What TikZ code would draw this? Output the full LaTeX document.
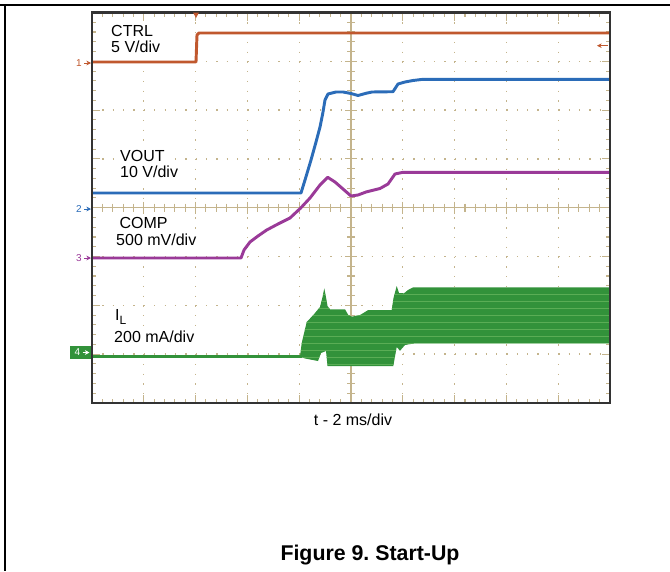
\documentclass[tikz,border=0pt]{standalone}
\usepackage{fontspec}
\setmainfont{Liberation Sans}
\usetikzlibrary{arrows.meta}
\frenchspacing

\definecolor{ctrlcol}{RGB}{192,88,46}
\definecolor{voutcol}{RGB}{43,108,184}
\definecolor{compcol}{RGB}{154,58,152}
\definecolor{ilcol}{RGB}{50,146,58}
\definecolor{ilstripe}{RGB}{100,180,92}
\definecolor{gridcol}{RGB}{196,180,140}

\newcommand\ilshape{(300,356.5) -- (301.7,343) -- (306.7,322) -- (313.3,315) -- (320,307) -- (322.5,297) -- (324.3,288.3) -- (326.5,300) -- (327.5,306) -- (330,309.3) -- (345,309.3) -- (348.3,315) -- (351.7,316.7) -- (360,315) -- (368.3,310) -- (391.7,310) -- (393.5,298) -- (396.7,286) -- (399,293) -- (404,293.3) -- (408,290) -- (413.3,287.3) -- (610,287.3) -- (610,343.3) -- (415,343.3) -- (405,345) -- (400,350.7) -- (396.7,347) -- (393.3,366) -- (327.5,366) -- (326,351) -- (321,353) -- (318,361) -- (305,358.5) -- cycle}

\begin{document}
\begin{tikzpicture}[x=0.75pt,y=-0.75pt,
  trace/.style={line width=2.2pt, line join=round},
  lbl/.style={fill=white, inner sep=2pt, anchor=base west, font=\fontsize{12}{12}\selectfont},
  chnum/.style={inner sep=0pt, font=\fontsize{7.5}{7.5}\selectfont},
  chmark/.style={-{Stealth[length=3.5pt,width=3.5pt]}, line width=0.6pt},
  tick/.style={gridcol, line width=0.8pt}]

\useasboundingbox (0,0) rectangle (670,571);
\draw[line width=1.5pt] (0,4.5) -- (670,4.5);
\draw[line width=1.5pt] (5.3,4.5) -- (5.3,571);

\foreach \i in {1,...,9}
  \draw[gridcol, line width=1pt, dash pattern=on 1pt off 6.32pt] ({92+51.8*\i},12.5) -- ({92+51.8*\i},403);
\foreach \j in {1,...,7}
  \draw[gridcol, line width=1pt, dash pattern=on 1pt off 6.77pt] (92,{12.5+48.8*\j}) -- (610,{12.5+48.8*\j});

\foreach \k in {1,...,49} {
  \pgfmathsetmacro\tl{mod(\k,5)==0 ? 8 : 4}
  \draw[tick] ({92+10.36*\k},12.5) -- ++(0,\tl);
  \draw[tick] ({92+10.36*\k},403) -- ++(0,-\tl);
  \draw[tick] ({92+10.36*\k},{207.7-\tl/2-2}) -- ++(0,\tl+4);
}
\foreach \k in {1,...,39} {
  \pgfmathsetmacro\tl{mod(\k,5)==0 ? 8 : 4}
  \draw[tick] (92,{12.5+9.76*\k}) -- ++(\tl,0);
  \draw[tick] (610,{12.5+9.76*\k}) -- ++(-\tl,0);
  \draw[tick] ({351-\tl/2-2},{12.5+9.76*\k}) -- ++(\tl+4,0);
}
\draw[tick] (351,12.5) -- (351,403);
\draw[tick] (92,207.7) -- (610,207.7);

\draw[trace, ctrlcol] (92,62) -- (196,62) -- (197,35) -- (199,33) -- (610,33);
\draw[trace, voutcol] (92,193) -- (301,193) -- (305,180) -- (311,160) -- (316,142) -- (320,127) -- (323,112) -- (325,100) -- (328,94) -- (336,92) -- (343,92) -- (351,93.5) -- (358,95.5) -- (366,93.3) -- (372,92) -- (393,91.7) -- (398,84) -- (405,82) -- (413,80.5) -- (423,79.3) -- (610,79.3);
\draw[trace, compcol] (92,258) -- (241,258) -- (244,250) -- (250,242) -- (258,236) -- (266.7,230) -- (278,224) -- (290,218) -- (300.7,208) -- (310,198) -- (320,185) -- (327.7,177.3) -- (335,182) -- (343,189) -- (351,196) -- (358,195) -- (366,192) -- (380,188.5) -- (388,184) -- (395,174) -- (403,172.3) -- (610,172.3);
\draw[trace, ilcol] (92,356.3) -- (302,356.3);
\fill[ilcol] \ilshape;
\begin{scope}
\clip \ilshape;
\foreach \y in {294,301,...,364}
  \draw[ilstripe, line width=0.5pt, opacity=0.8] (295,\y) -- (612,\y);
\end{scope}

\draw[line width=2.2pt, black!80] (92,12.5) rectangle (610,403);

\fill[ctrlcol] (193,12.5) -- (199,12.5) -- (196,18) -- cycle;
\coordinate (m1r) at (597,45.7);
\draw[chmark, ctrlcol] (608,45.7) -- (m1r);

\node[chnum, text=ctrlcol] (m1) at (79,63) {1};
\draw[chmark, ctrlcol] ([xshift=1.5pt]m1.east) -- (91,63);
\node[chnum, text=voutcol] (m2) at (79,209) {2};
\draw[chmark, voutcol] ([xshift=1.5pt]m2.east) -- (91,209);
\node[chnum, text=compcol] (m3) at (79,258) {3};
\draw[chmark, compcol] ([xshift=1.5pt]m3.east) -- (91,258);
\node[fill=ilcol, minimum width=15.75pt, minimum height=9.75pt, inner sep=0pt] (m4box) at (80.5,352.5) {};
\node[chnum, text=white] (m4) at (77.5,352.5) {4};
\draw[chmark, white] ([xshift=1.5pt]m4.east) -- (89.5,352.5);

\node[lbl] (ctrldiv) at (108.3,52) {5 V/div};
\node[lbl] (ctrl) at (108.3,36) {CTRL};
\node[lbl] (voutdiv) at (117.3,177.5) {10 V/div};
\node[lbl] (vout) at (117.3,161.5) {VOUT};
\node[lbl] (compdiv) at (113.3,245.5) {500 mV/div};
\node[lbl] (comp) at (116.6,228) {COMP};
\node[lbl] (ildiv) at (111.3,342.7) {200 mA/div};
\node[lbl] (il) at (112.3,320.7) {I\raisebox{-0.4ex}{\fontsize{9}{9}\selectfont L}};

\node[font=\fontsize{12}{12}\selectfont, anchor=base] (taxis) at (353,425) {t - 2 ms/div};
\node[font=\bfseries\fontsize{16}{16}\selectfont, anchor=base] (caption) at (370,560) {Figure 9. Start-Up};
\end{tikzpicture}
\end{document}
